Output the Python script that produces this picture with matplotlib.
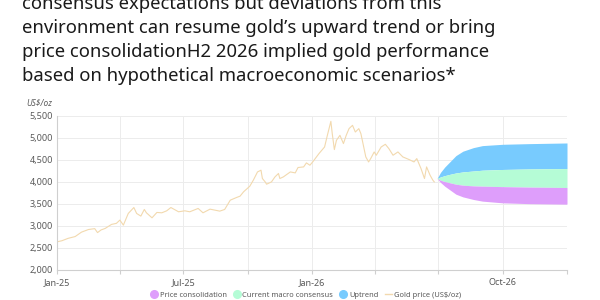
import numpy as np
import pandas as pd
import matplotlib
matplotlib.use("Agg")
import matplotlib.pyplot as plt
from matplotlib.lines import Line2D

# gold price (US$/oz)
gold_dates = [
    "2025-01-01", "2025-01-08", "2025-01-17", "2025-01-27", "2025-02-05", "2025-02-15",
    "2025-02-24", "2025-02-28", "2025-03-05", "2025-03-11", "2025-03-20", "2025-03-27",
    "2025-04-01", "2025-04-06", "2025-04-13", "2025-04-21", "2025-04-25", "2025-05-01",
    "2025-05-06", "2025-05-09", "2025-05-17", "2025-05-24", "2025-05-31", "2025-06-07",
    "2025-06-13", "2025-06-24", "2025-07-03", "2025-07-10", "2025-07-22", "2025-07-29",
    "2025-08-08", "2025-08-22", "2025-08-29", "2025-09-06", "2025-09-15", "2025-09-20",
    "2025-09-25", "2025-10-04", "2025-10-09", "2025-10-15", "2025-10-20", "2025-10-22",
    "2025-10-26", "2025-10-28", "2025-11-04", "2025-11-09", "2025-11-14", "2025-11-16",
    "2025-11-21", "2025-12-01", "2025-12-08", "2025-12-12", "2025-12-20", "2025-12-24",
    "2025-12-29", "2026-01-02", "2026-01-11", "2026-01-19", "2026-01-23", "2026-01-28",
    "2026-01-30", "2026-02-02", "2026-02-05", "2026-02-10", "2026-02-15", "2026-02-19",
    "2026-02-23", "2026-02-28", "2026-03-04", "2026-03-09", "2026-03-12", "2026-03-15",
    "2026-03-19", "2026-03-23", "2026-03-26", "2026-03-31", "2026-04-03", "2026-04-10",
    "2026-04-16", "2026-04-21", "2026-04-27", "2026-05-04", "2026-05-11", "2026-05-20",
    "2026-05-27", "2026-05-31", "2026-06-06", "2026-06-11", "2026-06-14", "2026-06-19",
    "2026-06-23", "2026-06-25",
]
gold_price = [
    2640, 2665, 2720, 2760, 2860, 2920,
    2940, 2850, 2910, 2945, 3036, 3060,
    3134, 3020, 3285, 3420, 3285, 3225,
    3376, 3300, 3186, 3308, 3300, 3345,
    3420, 3323, 3345, 3323, 3399, 3300,
    3383, 3338, 3376, 3587, 3648, 3678,
    3776, 3905, 4041, 4229, 4268, 4079,
    4002, 3950, 4002, 4116, 4193, 4079,
    4116, 4229, 4207, 4329, 4343, 4434,
    4381, 4456, 4646, 4796, 5061, 5379,
    5098, 4737, 4948, 5061, 4873, 5061,
    5213, 5288, 5136, 5213, 5098, 4873,
    4570, 4456, 4532, 4683, 4608, 4796,
    4857, 4759, 4608, 4683, 4570, 4510,
    4456, 4532, 4306, 4079, 4343, 4154,
    4041, 4002,
]

# H2 2026 scenario fan
fan_dates = ["2026-06-29", "2026-07-04", "2026-07-10", "2026-07-18", "2026-07-26",
             "2026-08-05", "2026-08-20", "2026-09-02", "2026-10-01", "2026-11-08",
             "2027-01-01"]
uptrend_top = [4080, 4220, 4340, 4470, 4600, 4700, 4781, 4827, 4857, 4872, 4887]
consensus_top = [4080, 4115, 4145, 4177, 4205, 4229, 4250, 4268, 4285, 4297, 4306]
consensus_bottom = [4080, 4040, 4010, 3980, 3950, 3927, 3912, 3905, 3895, 3884, 3875]
consolidation_bottom = [4080, 3990, 3905, 3814, 3723, 3662, 3603, 3565, 3526, 3508, 3497]

x_ticks = ["2025-01-01", "2025-04-01", "2025-07-01", "2025-10-01", "2026-01-01",
           "2026-04-01", "2026-07-01", "2026-10-01", "2027-01-01"]
x_labels = ["Jan-25", "", "Jul-25", "", "Jan-26", "", "", "Oct-26", ""]
y_ticks = [2000, 2500, 3000, 3500, 4000, 4500, 5000, 5500]

title = ("consensus expectations but deviations from this\n"
         "environment can resume gold\u2019s upward trend or bring\n"
         "price consolidationH2 2026 implied gold performance\n"
         "based on hypothetical macroeconomic scenarios*")

c_blue = "#78CBFE"
c_green = "#B5FCD6"
c_purple = "#DE9EFB"
c_gold = "#F2D9AE"
c_text = "#595959"
c_grid = "#ECECEC"

plt.rcParams["font.family"] = ["Noto Sans", "DejaVu Sans"]

fig = plt.figure(figsize=(6, 3), dpi=100)
fig.text(22 / 600, 1 - 81 / 300, title, fontsize=13.3, color="#1a1a1a",
         va="baseline", ha="left", linespacing=1.42)

ax = fig.add_axes([57 / 600, 0.1, 510 / 600, 154 / 300])
gd = pd.to_datetime(gold_dates)
fd = pd.to_datetime(fan_dates)

ax.fill_between(fd, consensus_top, uptrend_top, color=c_blue, lw=0)
ax.fill_between(fd, consensus_bottom, consensus_top, color=c_green, lw=0)
ax.fill_between(fd, consolidation_bottom, consensus_bottom, color=c_purple, lw=0)
ax.plot(gd, gold_price, color=c_gold, lw=0.8)

ax.set_xlim(pd.Timestamp("2025-01-01"), pd.Timestamp("2027-01-01"))
ax.set_ylim(2000, 5500)
ax.set_yticks(y_ticks)
ax.set_yticklabels([f"{v:,}" for v in y_ticks])
ax.set_xticks(pd.to_datetime(x_ticks))
ax.set_xticklabels(x_labels)

ax.grid(True, color=c_grid, lw=0.7)
ax.set_axisbelow(True)
for s in ["top", "right"]:
    ax.spines[s].set_visible(False)
for s in ["left", "bottom"]:
    ax.spines[s].set_color("#cfcfcf")
    ax.spines[s].set_linewidth(0.8)
ax.tick_params(axis="both", labelsize=6.5, colors=c_text, length=0, pad=3)
ax.tick_params(axis="x", length=3, color="#cfcfcf")

fig.text(52 / 600, 1 - 104 / 300, "US$/oz", fontsize=6, style="italic",
         color=c_text, ha="right", va="center")

handles = [
    Line2D([], [], ls="", marker="o", ms=5.5, mfc=c_purple, mec=c_purple),
    Line2D([], [], ls="", marker="o", ms=5.5, mfc=c_green, mec=c_green),
    Line2D([], [], ls="", marker="o", ms=5.5, mfc=c_blue, mec=c_blue),
    Line2D([], [], color=c_gold, lw=1),
]
labels = ["Price consolidation", "Current macro consensus", "Uptrend", "Gold price (US$/oz)"]
fig.legend(handles, labels, loc="center", bbox_to_anchor=(306 / 600, 1 - 295 / 300),
           ncol=4, frameon=False, fontsize=5.4, labelcolor=c_text,
           handlelength=0.9, handletextpad=0.3, columnspacing=0.9)

fig.savefig("out.png", dpi=100)
